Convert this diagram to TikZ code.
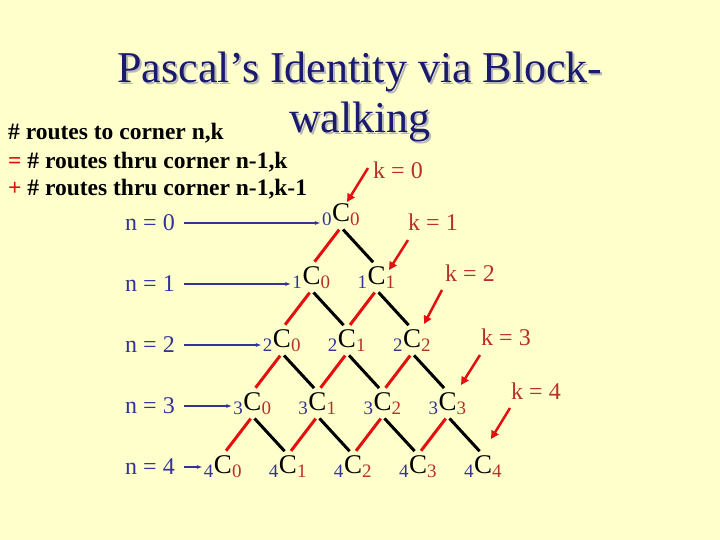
\documentclass[tikz,border=0pt]{standalone}
\usepackage{fontspec}
\setmainfont{Liberation Serif}
\usetikzlibrary{arrows.meta}
\definecolor{bg}{HTML}{FFFFCC}
\definecolor{navy}{HTML}{1A1A6E}
\definecolor{nblue}{HTML}{333399}
\definecolor{kred}{HTML}{B8302A}
\definecolor{ared}{HTML}{E41010}
\newcommand{\bc}[2]{\textsubscript{\color{nblue}\fontsize{19}{19}\selectfont#1}C\textsubscript{\color{kred}\fontsize{19}{19}\selectfont#2}}
\begin{document}
\begin{tikzpicture}[x=1pt,y=-1pt,
  cnode/.style={inner sep=1pt,font=\fontsize{27}{27}\selectfont},
  nlab/.style={text=nblue,font=\fontsize{24}{24}\selectfont,inner sep=1pt},
  klab/.style={text=kred,font=\fontsize{24}{24}\selectfont,inner sep=1pt},
  narrow/.style={draw=nblue,line width=1.3pt,-{Latex[length=6pt,width=4pt]}},
  karrow/.style={draw=ared,line width=2.5pt,-{Triangle[length=8pt,width=8pt]}},
  redge/.style={draw=ared,line width=3pt,shorten <=3pt,shorten >=5pt},
  bedge/.style={draw=black,line width=3pt,shorten <=3pt,shorten >=5pt},
  body/.style={font=\bfseries\fontsize{23.5}{23.5}\selectfont,anchor=west,inner sep=0pt}]
\fill[bg] (0,0) rectangle (720,540);
\useasboundingbox (0,0) rectangle (720,540);
% title
\node[text=gray!55,font=\fontsize{44}{50}\selectfont,align=center] at (362,99) {Pascal’s Identity via Block-\\walking};
\node[text=navy,font=\fontsize{44}{50}\selectfont,align=center] (title) at (360,97) {Pascal’s Identity via Block-\\walking};
\node[body] (t1) at (8,133) {\# routes to corner n,k};
\node[body] (t2) at (8,162) {{\color{ared}=} \# routes thru corner n-1,k};
\node[body] (t3) at (8,189) {{\color{ared}+} \# routes thru corner n-1,k-1};
% nodes
\foreach \n in {0,...,4}{
 \foreach \k in {0,...,\n}{
  \node[cnode] (c\n\k) at ({341-29.5*\n+65*\k},{215+63*\n}) {\bc{\n}{\k}};}}
% edges
\foreach \n/\m in {0/1,1/2,2/3,3/4}{
 \foreach \k in {0,...,\n}{
  \pgfmathtruncatemacro{\kk}{\k+1}
  \draw[redge] (c\n\k.south) -- (c\m\k.north);
  \draw[bedge] (c\n\k.south) -- (c\m\kk.north);}}
% n labels
\foreach \n in {0,...,4}{
 \node[nlab] (n\n) at (150,{223+61*\n}) {n = \n};
 \draw[narrow] (n\n.east) ++(8,0) coordinate (s\n) -- (c\n0.west |- s\n);}
% k labels
\node[klab] (k0) at (398,170) {k = 0};
\node[klab] (k1) at (433,222) {k = 1};
\node[klab] (k2) at (470,273) {k = 2};
\node[klab] (k3) at (506,337) {k = 3};
\node[klab] (k4) at (536,391) {k = 4};
\coordinate (a0) at (368,168); \coordinate (b0) at (347,202);
\coordinate (a1) at (408,240); \coordinate (b1) at (389,270);
\coordinate (a2) at (442,290); \coordinate (b2) at (424,324);
\coordinate (a3) at (480,355); \coordinate (b3) at (461,385);
\coordinate (a4) at (510,408); \coordinate (b4) at (491,439);
\foreach \i in {0,...,4}{\draw[karrow] (a\i) -- (b\i);}
\end{tikzpicture}
\end{document}
